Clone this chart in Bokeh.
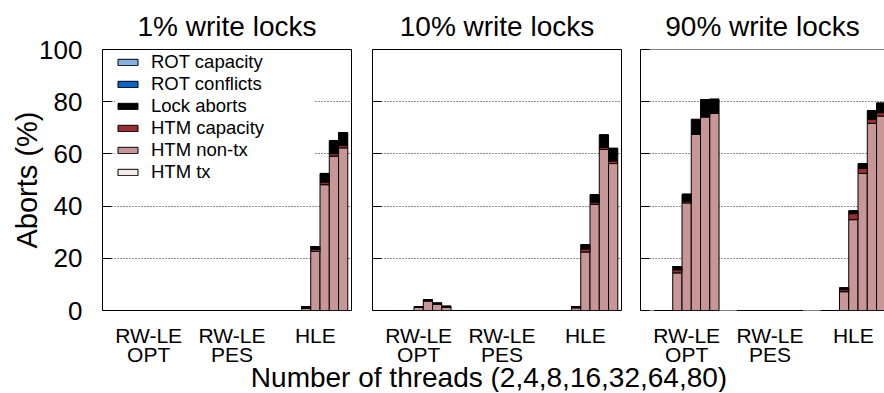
from bokeh.plotting import figure
from bokeh.layouts import row, column
from bokeh.models import (ColumnDataSource, Range1d, FixedTicker, Legend,
                          LegendItem, Span)
from bokeh.core.properties import value
from bokeh.embed import file_html
from bokeh.resources import INLINE

# ---------------- data ----------------
panel_titles = ["1% write locks", "10% write locks", "90% write locks"]
group_labels = ["RW-LE\nOPT", "RW-LE\nPES", "HLE"]
threads = ["2", "4", "8", "16", "32", "64", "80"]
x_title = "Number of threads (2,4,8,16,32,64,80)"
y_title = "Aborts (%)"

# stacking order: bottom -> top
series_keys = ["htm_tx", "htm_nontx", "htm_cap", "lock", "rot_conf", "rot_cap"]
series_names = ["HTM tx", "HTM non-tx", "HTM capacity", "Lock aborts",
                "ROT conflicts", "ROT capacity"]
series_colors = ["#f4eaea", "#c89696", "#9a2e30", "#000000", "#0a66cc", "#80b1e2"]

# each list: RW-LE OPT (7 threads), RW-LE PES (7 threads), HLE (7 threads)
w1_htm_tx    = [0, 0, 0, 0, 0, 0, 0,   0, 0, 0, 0, 0, 0, 0,   0, 0, 0, 0, 0, 0, 0]
w1_htm_nontx = [0, 0, 0, 0, 0, 0, 0,   0, 0, 0, 0, 0, 0, 0,   0, 0, 0.8, 22.6, 48.2, 59.1, 62.3]
w1_htm_cap   = [0, 0, 0, 0, 0, 0, 0,   0, 0, 0, 0, 0, 0, 0,   0, 0, 0.2, 0.8, 1.0, 1.0, 1.0]
w1_lock      = [0, 0, 0, 0, 0, 0, 0,   0, 0, 0, 0, 0, 0, 0,   0, 0, 0.4, 1.1, 3.3, 4.9, 4.8]
w1_rot_conf  = [0, 0, 0, 0, 0, 0, 0,   0, 0, 0, 0, 0, 0, 0,   0, 0, 0, 0, 0, 0, 0]
w1_rot_cap   = [0, 0, 0, 0, 0, 0, 0,   0, 0, 0, 0, 0, 0, 0,   0, 0, 0, 0, 0, 0, 0]

w10_htm_tx    = [0, 0, 0, 0, 0, 0, 0,   0, 0, 0, 0, 0, 0, 0,   0, 0, 0, 0, 0, 0, 0]
w10_htm_nontx = [0, 0, 0, 1.2, 3.7, 2.5, 1.3,   0, 0, 0, 0, 0, 0, 0,   0, 0, 1.0, 22.4, 40.7, 61.7, 56.3]
w10_htm_cap   = [0, 0, 0, 0, 0, 0, 0,   0, 0, 0, 0, 0, 0, 0,   0, 0, 0.2, 1.2, 0.8, 0.8, 1.0]
w10_lock      = [0, 0, 0, 0.3, 0.4, 0.3, 0.3,   0, 0, 0, 0, 0, 0, 0,   0, 0, 0.3, 1.5, 2.9, 4.7, 4.8]
w10_rot_conf  = [0, 0, 0, 0, 0, 0, 0,   0, 0, 0, 0, 0, 0, 0,   0, 0, 0, 0, 0, 0, 0]
w10_rot_cap   = [0, 0, 0, 0, 0, 0, 0,   0, 0, 0, 0, 0, 0, 0,   0, 0, 0, 0, 0, 0, 0]

w90_htm_tx    = [0, 0, 0, 0, 0, 0, 0,   0, 0, 0, 0, 0, 0, 0,   0, 0, 0, 0, 0, 0, 0]
w90_htm_nontx = [0, 0, 14.4, 41.2, 67.5, 74.2, 75.5,   0, 0, 0, 0, 0, 0, 0,   0, 0, 7.2, 34.8, 52.5, 71.7, 74.5]
w90_htm_cap   = [0, 0, 1.2, 0.7, 0, 0, 0,   0, 0, 0, 0, 0, 0, 0,   0, 0, 0.8, 2.3, 1.9, 1.6, 1.3]
w90_lock      = [0, 0, 1.2, 2.6, 5.7, 6.5, 5.4,   0, 0, 0, 0, 0, 0, 0,   0, 0, 0.6, 1.0, 1.9, 3.2, 3.6]
w90_rot_conf  = [0, 0, 0, 0, 0, 0, 0,   0, 0, 0, 0, 0, 0, 0,   0, 0, 0, 0, 0, 0, 0]
w90_rot_cap   = [0, 0, 0, 0, 0, 0, 0,   0, 0, 0, 0, 0, 0, 0,   0, 0, 0, 0, 0, 0, 0]

panel_data = [
    [w1_htm_tx, w1_htm_nontx, w1_htm_cap, w1_lock, w1_rot_conf, w1_rot_cap],
    [w10_htm_tx, w10_htm_nontx, w10_htm_cap, w10_lock, w10_rot_conf, w10_rot_cap],
    [w90_htm_tx, w90_htm_nontx, w90_htm_cap, w90_lock, w90_rot_conf, w90_rot_cap],
]

# ---------------- layout ----------------
FONT = "Liberation Sans"
GROUP_STEP = len(threads) + 2          # 7 bars + gap of 2 bars
UNIT_PX = 249 / 26.88
X0 = -1.98
FRAME_TOP = 49
FRAME_H = 261
BOTTOM = 14
PAGE_W = 884

group_centers = [g * GROUP_STEP + (len(threads) - 1) / 2 for g in range(len(group_labels))]
xs = [g * GROUP_STEP + j for g in range(len(group_labels)) for j in range(len(threads))]

frame_widths = [249, 249, 244]
min_lefts = [102, 11, 10]
min_rights = [10, 9, 0]
frame_lefts = []
acc = 0
for i in range(3):
    frame_lefts.append(acc + min_lefts[i])
    acc += min_lefts[i] + frame_widths[i] + min_rights[i]

figs = []
for i, title in enumerate(panel_titles):
    fw = frame_widths[i]
    p = figure(frame_width=fw, frame_height=FRAME_H,
               x_range=Range1d(X0, X0 + fw / UNIT_PX), y_range=Range1d(0, 100),
               output_backend="svg", toolbar_location=None, title=title,
               min_border_left=min_lefts[i], min_border_right=min_rights[i],
               min_border_top=FRAME_TOP, min_border_bottom=BOTTOM)
    p.title.text_font = FONT
    p.title.text_font_size = "28px"
    p.title.text_font_style = "normal"
    p.title.align = "center"
    p.title.text_color = "black"
    p.title.standoff = 16

    data = {"x": xs}
    for k, vals in zip(series_keys, panel_data[i]):
        data[k] = vals
    src = ColumnDataSource(data)
    rs = p.vbar_stack(series_keys, x="x", width=1, source=src,
                      fill_color=series_colors, line_color="black", line_width=1)

    # x axis: group labels are drawn in the strip below (they span the panels)
    p.xaxis.visible = False
    p.xgrid.visible = False

    # y axis
    p.yaxis.ticker = FixedTicker(ticks=[0, 20, 40, 60, 80, 100])
    p.yaxis.major_tick_in = 9
    p.yaxis.major_tick_out = 0
    p.yaxis.major_tick_line_color = "black"
    p.yaxis.minor_tick_line_color = None
    p.yaxis.major_label_text_font = FONT
    p.yaxis.major_label_text_font_size = "26px"
    p.yaxis.major_label_text_color = "black"
    p.ygrid.ticker = FixedTicker(ticks=[20, 40, 60, 80])
    p.ygrid.grid_line_color = "#222222"
    p.ygrid.grid_line_dash = "1 2"
    p.ygrid.grid_line_width = 1

    if i == 0:
        p.yaxis.major_label_standoff = 20
        p.yaxis.axis_label = y_title
        p.yaxis.axis_label_text_font = FONT
        p.yaxis.axis_label_text_font_size = "29px"
        p.yaxis.axis_label_text_font_style = "normal"
        p.yaxis.axis_label_text_color = "black"
        p.yaxis.axis_label_standoff = -7
    else:
        p.yaxis.major_label_overrides = {t: "" for t in [0, 20, 40, 60, 80, 100]}
        p.yaxis.major_label_standoff = 0

    if i < 2:
        p.outline_line_color = "black"
        p.outline_line_width = 1
        p.yaxis.axis_line_color = None
    else:
        p.outline_line_color = None
        p.yaxis.axis_line_color = "black"
        p.add_layout(Span(location=100, dimension="width", line_color="black", line_width=1))
        p.add_layout(Span(location=0, dimension="width", line_color="black", line_width=1))

    if i == 0:
        items = [LegendItem(label=name, renderers=[r])
                 for name, r in zip(series_names, rs)][::-1]
        leg = Legend(items=items, location=(13, 127))
        leg.label_text_font = FONT
        leg.label_text_font_size = "18.5px"
        leg.label_text_color = "black"
        leg.label_height = 21
        leg.glyph_height = 8
        leg.glyph_width = 25
        leg.label_standoff = 11
        leg.label_width = 163
        leg.spacing = 0
        leg.padding = 2
        leg.margin = 0
        leg.border_line_color = None
        leg.background_fill_color = "white"
        leg.background_fill_alpha = 1
        p.add_layout(leg)

    figs.append(p)

# ---- strip below the panels: group labels and the shared x-axis title ----
STRIP_TOP = FRAME_TOP + FRAME_H + BOTTOM
STRIP_H = 68
lab = figure(frame_width=PAGE_W, frame_height=STRIP_H, title=None,
             x_range=Range1d(0, PAGE_W),
             y_range=Range1d(STRIP_TOP + STRIP_H, STRIP_TOP),   # y grows downwards (page px)
             output_backend="svg", toolbar_location=None, min_border=0)
lab.axis.visible = False
lab.grid.visible = False
lab.outline_line_color = None

lx, line1, line2 = [], [], []
for i in range(3):
    for c, g in zip(group_centers, group_labels):
        parts = g.split("\n")
        lx.append(frame_lefts[i] + (c - X0) * UNIT_PX)
        line1.append(parts[0])
        line2.append(parts[1] if len(parts) > 1 else "")

lab.text(x=lx, y=[STRIP_TOP + 11] * len(lx), text=line1, text_font=value(FONT),
         text_font_size="21px", text_align="center", text_baseline="alphabetic",
         text_color="black")
lab.text(x=lx, y=[STRIP_TOP + 30] * len(lx), text=line2, text_font=value(FONT),
         text_font_size="21px", text_align="center", text_baseline="alphabetic",
         text_color="black")
mid = frame_lefts[1] + frame_widths[1] / 2
lab.text(x=[mid - 8], y=[STRIP_TOP + 53], text=[x_title], text_font=value(FONT),
         text_font_size="28px", text_align="center", text_baseline="alphabetic",
         text_color="black")

layout = column(row(*figs, spacing=0), lab, spacing=0)
open("out.html", "w").write(file_html(layout, INLINE))
